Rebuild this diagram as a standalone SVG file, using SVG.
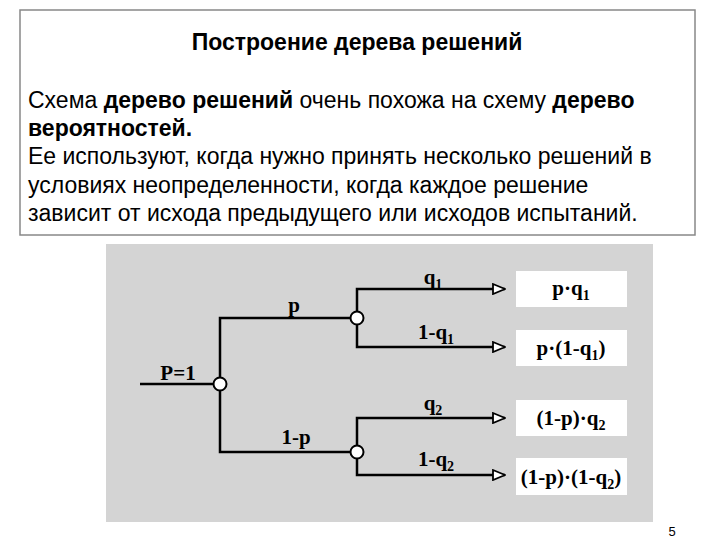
<svg xmlns="http://www.w3.org/2000/svg" width="720" height="540" viewBox="0 0 720 540">
<style>
.t{font-family:"Liberation Sans",Arial,sans-serif;font-size:23px;fill:#000}
.b{font-weight:bold}
.s{font-family:"Liberation Serif","Times New Roman",serif;font-size:21px;font-weight:bold;fill:#000}
.sub{font-size:14px}
.ln{fill:none;stroke:#000;stroke-width:2.5}
.bx{fill:#fff}
.nd{fill:#fff;stroke:#000;stroke-width:2}
</style>
<defs><marker id="a" markerWidth="14" markerHeight="12" refX="13" refY="6" orient="auto" markerUnits="userSpaceOnUse"><path d="M1,1 L13,6 L1,11 Z" fill="#fff" stroke="#000" stroke-width="1.8"/></marker></defs>
<rect width="720" height="540" fill="#fff"/>
<g id="textbox">
<rect x="20" y="10" width="675" height="225" fill="#fff" stroke="#888" stroke-width="1.5"/>
<text class="t b" x="357" y="50" text-anchor="middle" font-size="21">Построение дерева решений</text>
<text class="t" x="28" y="108">Схема <tspan class="b">дерево решений</tspan> очень похожа на схему <tspan class="b">дерево</tspan></text>
<text class="t b" x="28" y="136">вероятностей.</text>
<text class="t" x="28" y="164">Ее используют, когда нужно принять несколько решений в</text>
<text class="t" x="28" y="193">условиях неопределенности, когда каждое решение</text>
<text class="t" x="28" y="221">зависит от исхода предыдущего или исходов испытаний.</text>
</g>
<rect x="106" y="244" width="547" height="278" fill="#d4d4d4"/>
<g id="connectors">
<path class="ln" d="M140,384 H220 M220,384 V318 H357 M220,384 V452 H357"/>
<path class="ln" d="M357,318 V289 H505" marker-end="url(#a)"/>
<path class="ln" d="M357,318 V347 H505" marker-end="url(#a)"/>
<path class="ln" d="M357,452 V418 H505" marker-end="url(#a)"/>
<path class="ln" d="M357,452 V475 H505" marker-end="url(#a)"/>
</g>
<g id="n0"><circle class="nd" cx="220" cy="384" r="6.5"/><text class="s" x="178" y="380" text-anchor="middle">P=1</text></g>
<g id="n1"><circle class="nd" cx="357" cy="318" r="6.5"/><text class="s" x="294" y="312" text-anchor="middle">p</text></g>
<g id="n2"><circle class="nd" cx="357" cy="452" r="6.5"/><text class="s" x="296" y="444" text-anchor="middle">1-p</text></g>
<g id="e1"><text class="s" x="433" y="284" text-anchor="middle">q<tspan class="sub" dy="5">1</tspan></text></g>
<g id="e2"><text class="s" x="436" y="339" text-anchor="middle">1-q<tspan class="sub" dy="5">1</tspan></text></g>
<g id="e3"><text class="s" x="433" y="410" text-anchor="middle">q<tspan class="sub" dy="5">2</tspan></text></g>
<g id="e4"><text class="s" x="436" y="466" text-anchor="middle">1-q<tspan class="sub" dy="5">2</tspan></text></g>
<g id="r1"><rect class="bx" x="516" y="271" width="111" height="36"/><text class="s" x="571" y="295" text-anchor="middle">p·q<tspan class="sub" dy="5">1</tspan></text></g>
<g id="r2"><rect class="bx" x="516" y="330" width="111" height="36"/><text class="s" x="571" y="355" text-anchor="middle">p·(1-q<tspan class="sub" dy="5">1</tspan><tspan dy="-5">)</tspan></text></g>
<g id="r3"><rect class="bx" x="516" y="400" width="111" height="36"/><text class="s" x="571" y="425" text-anchor="middle">(1-p)·q<tspan class="sub" dy="5">2</tspan></text></g>
<g id="r4"><rect class="bx" x="516" y="458" width="111" height="37"/><text class="s" x="571" y="484" text-anchor="middle">(1-p)·(1-q<tspan class="sub" dy="5">2</tspan><tspan dy="-5">)</tspan></text></g>
<text x="672" y="536" font-family="Liberation Sans,Arial,sans-serif" font-size="13" text-anchor="middle">5</text>
</svg>
